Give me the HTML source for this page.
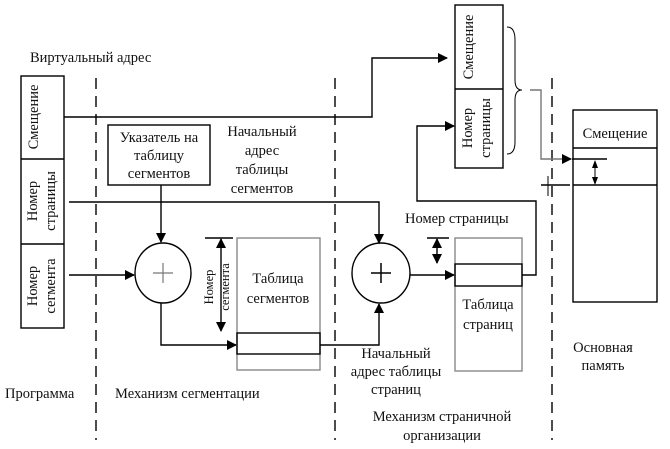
<!DOCTYPE html>
<html><head><meta charset="utf-8"><style>
html,body{margin:0;padding:0;background:#fff;}
svg{display:block;}
text{font-family:"Liberation Serif","DejaVu Serif",serif;font-size:14.5px;fill:#111;}
</style></head><body>
<svg width="670" height="449" viewBox="0 0 670 449" xmlns="http://www.w3.org/2000/svg">
<defs>
<marker id="a" markerWidth="10" markerHeight="10" refX="9" refY="5" orient="auto-start-reverse" markerUnits="userSpaceOnUse"><path d="M0,0 L10,5 L0,10 z" fill="#000"/></marker>
<marker id="s" markerWidth="8" markerHeight="8" refX="7" refY="4" orient="auto-start-reverse" markerUnits="userSpaceOnUse"><path d="M0,1 L8,4 L0,7 z" fill="#000"/></marker>
</defs>
<g stroke="#000" stroke-width="1.4" fill="none">
<line x1="96" y1="78" x2="96" y2="440" stroke-dasharray="11,7"/>
<line x1="335" y1="78" x2="335" y2="440" stroke-dasharray="11,7"/>
<line x1="552" y1="78" x2="552" y2="440" stroke-dasharray="11,7"/>
<rect x="21" y="76" width="43" height="252"/>
<line x1="21" y1="159" x2="64" y2="159"/>
<line x1="21" y1="244" x2="64" y2="244"/>
<polyline points="64,117 372,117 372,58 447,58" marker-end="url(#a)"/>
<polyline points="69,202 379,202 379,243" marker-end="url(#a)"/>
<line x1="69" y1="275" x2="134" y2="275" marker-end="url(#a)"/>
<rect x="108" y="125" width="102" height="60"/>
<line x1="161" y1="185" x2="161" y2="242" marker-end="url(#a)"/>
<ellipse cx="163" cy="273" rx="28" ry="30"/>
<polyline points="161,303 161,345 236,345" marker-end="url(#a)"/>
<rect x="237" y="238" width="83" height="132" stroke="#888"/>
<rect x="237" y="333" width="83" height="21"/>
<line x1="205" y1="238" x2="233" y2="238"/>
<line x1="221" y1="239" x2="221" y2="331" marker-end="url(#a)" marker-start="url(#a)"/>
<polyline points="320,345 379,345 379,304" marker-end="url(#a)"/>
<ellipse cx="381" cy="273" rx="29" ry="30"/>
<line x1="410" y1="275" x2="454" y2="275" marker-end="url(#a)"/>
<rect x="455" y="238" width="67" height="133" stroke="#888"/>
<rect x="455" y="264" width="67" height="22"/>
<line x1="427" y1="238" x2="449" y2="238"/>
<line x1="437" y1="239" x2="437" y2="263" marker-end="url(#a)" marker-start="url(#a)"/>
<polyline points="522,275 536,275 536,201 417,201 417,126 454,126" marker-end="url(#a)"/>
<rect x="455" y="5" width="48" height="163"/>
<line x1="455" y1="89" x2="503" y2="89"/>
<path d="M507,27 Q515,27 515,40 L515,80 Q515,90 522,90 Q515,90 515,100 L515,142 Q515,154 507,154" stroke-width="1"/>
<polyline points="530,90 541,90 541,159 571,159" stroke="#777" marker-end="url(#a)"/>
<rect x="573" y="110" width="84" height="192"/>
<line x1="573" y1="148" x2="657" y2="148"/>
<line x1="573" y1="185" x2="657" y2="185"/>
<line x1="572" y1="159" x2="607" y2="159"/>
<line x1="541" y1="185" x2="570" y2="185"/>
<line x1="548" y1="176" x2="548" y2="196" stroke-width="1"/>
<line x1="595" y1="161" x2="595" y2="184" marker-end="url(#s)" marker-start="url(#s)" stroke-width="1"/>
</g>
<g stroke="#777" stroke-width="1.2">
<line x1="163" y1="263" x2="163" y2="283"/><line x1="153" y1="273" x2="173" y2="273"/>
</g>
<g stroke="#000" stroke-width="1.5">
<line x1="381" y1="263" x2="381" y2="283"/><line x1="371" y1="273" x2="391" y2="273"/>
</g>
<text x="30" y="62">Виртуальный адрес</text>
<g text-anchor="middle">
<text transform="translate(38,117) rotate(-90)">Смещение</text>
<text transform="translate(37,201) rotate(-90)">Номер</text>
<text transform="translate(55,201) rotate(-90)">страницы</text>
<text transform="translate(37,286) rotate(-90)">Номер</text>
<text transform="translate(55,286) rotate(-90)">сегмента</text>
<text transform="translate(473,47) rotate(-90)">Смещение</text>
<text transform="translate(472,128) rotate(-90)">Номер</text>
<text transform="translate(490,128) rotate(-90)">страницы</text>
<text transform="translate(213,287) rotate(-90)" style="font-size:12.5px">Номер</text>
<text transform="translate(229,287) rotate(-90)" style="font-size:12.5px">сегмента</text>
<text x="159" y="142">Указатель на</text>
<text x="159" y="160">таблицу</text>
<text x="159" y="178">сегментов</text>
<text x="262" y="136">Начальный</text>
<text x="262" y="155">адрес</text>
<text x="262" y="174">таблицы</text>
<text x="262" y="193">сегментов</text>
<text x="278" y="283">Таблица</text>
<text x="278" y="303">сегментов</text>
<text x="488" y="309">Таблица</text>
<text x="488" y="329">страниц</text>
<text x="615" y="138">Смещение</text>
<text x="396" y="358">Начальный</text>
<text x="396" y="376">адрес таблицы</text>
<text x="396" y="394">страниц</text>
<text x="442" y="421">Механизм страничной</text>
<text x="442" y="440">организации</text>
<text x="603" y="352">Основная</text>
<text x="603" y="370">память</text>
</g>
<text x="405" y="223">Номер страницы</text>
<text x="5" y="398">Программа</text>
<text x="115" y="398">Механизм сегментации</text>
</svg>
</body></html>
